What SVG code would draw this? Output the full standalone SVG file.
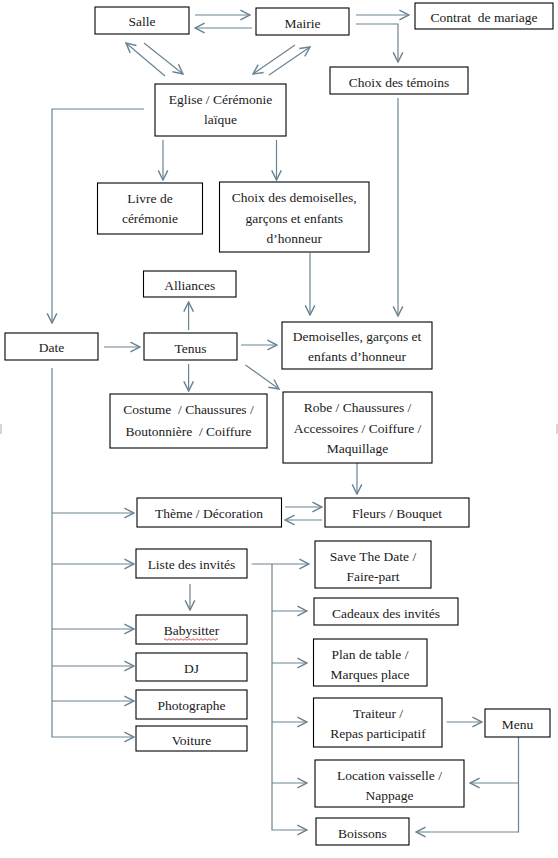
<svg xmlns="http://www.w3.org/2000/svg" width="558" height="858" viewBox="0 0 558 858">
<style>
.box{fill:#fff;stroke:#000;stroke-width:1.1}
.lbl{font-family:"Liberation Serif","Times New Roman",serif;font-size:13.5px;fill:#1a1a1a;text-anchor:middle}
.conn path{fill:none;stroke:#6a8494;stroke-width:1.2}
.conn path.a{marker-end:url(#arr)}
</style>
<defs>
<marker id="arr" markerUnits="userSpaceOnUse" markerWidth="12" markerHeight="12" viewBox="0 0 10 10" refX="9" refY="5" orient="auto">
<path d="M1,1 L9,5 L1,9" fill="none" stroke="#6a8494" stroke-width="1.2"/>
</marker>
</defs>
<rect width="558" height="858" fill="#fff"/>
<g id="edge-marks" stroke="#c8c8c8" stroke-width="1.5">
<path d="M1,424 V434"/>
<path d="M557,424 V434"/>
</g>
<g class="conn" id="connectors">
<path class="a" d="M195,15 H250"/>
<path class="a" d="M252,28 H195"/>
<path class="a" d="M356,15 H409"/>
<path class="a" d="M356,24 H398 V62"/>
<path class="a" d="M165,76 L126,43"/>
<path class="a" d="M144,43 L183,74"/>
<path class="a" d="M295,45 L253,74"/>
<path class="a" d="M269,75 L310,47"/>
<path class="a" d="M144,109 H52 V323"/>
<path class="a" d="M163,140 V180"/>
<path class="a" d="M276.5,140 V180"/>
<path class="a" d="M310,253 V315"/>
<path class="a" d="M398,98 V316"/>
<path class="a" d="M188.6,330 V302"/>
<path class="a" d="M104,347 H140"/>
<path class="a" d="M241,345 H277"/>
<path class="a" d="M188.6,364 V391"/>
<path class="a" d="M245.5,365 L279,389"/>
<path class="a" d="M357,463 V494"/>
<path class="a" d="M285,507 H322"/>
<path class="a" d="M322,520 H285"/>
<path class="a" d="M52,368 V737 H134"/>
<path class="a" d="M52,513 H134"/>
<path class="a" d="M52,564 H134"/>
<path class="a" d="M52,629 H134"/>
<path class="a" d="M52,666 H134"/>
<path class="a" d="M52,701 H134"/>
<path class="a" d="M251.6,564 H309"/>
<path class="a" d="M272,564 V830 H307"/>
<path class="a" d="M272,611 H307"/>
<path class="a" d="M272,663 H307"/>
<path class="a" d="M272,722 H307"/>
<path class="a" d="M272,783 H307"/>
<path class="a" d="M190,584 V610"/>
<path class="a" d="M446.6,722 H482"/>
<path class="a" d="M518.5,737 V832 H416"/>
<path class="a" d="M518.5,783 H470"/>
</g>
<g id="salle"><rect class="box" x="95" y="7" width="94" height="27"/><text class="lbl" x="142" y="25.5">Salle</text></g>
<g id="mairie"><rect class="box" x="256" y="8" width="93" height="27"/><text class="lbl" x="302.5" y="27.5">Mairie</text></g>
<g id="contrat"><rect class="box" x="415" y="3" width="138" height="26"/><text class="lbl" x="484" y="21.5" xml:space="preserve">Contrat  de mariage</text></g>
<g id="temoins"><rect class="box" x="330" y="67" width="138" height="27"/><text class="lbl" x="399" y="86.5">Choix des témoins</text></g>
<g id="eglise"><rect class="box" x="155" y="84" width="131" height="52"/><text class="lbl" x="220.5" y="103.5">Eglise / Cérémonie</text><text class="lbl" x="220.5" y="123.5">laïque</text></g>
<g id="livre"><rect class="box" x="97.5" y="183" width="105" height="51"/><text class="lbl" x="150" y="202.5">Livre de</text><text class="lbl" x="150" y="222.5">cérémonie</text></g>
<g id="choix-demoiselles"><rect class="box" x="219.5" y="182" width="149.5" height="70"/><text class="lbl" x="294.25" y="201.5">Choix des demoiselles,</text><text class="lbl" x="294.25" y="222.5">garçons et enfants</text><text class="lbl" x="294.25" y="242.5">d’honneur</text></g>
<g id="alliances"><rect class="box" x="143.5" y="271" width="92.5" height="26"/><text class="lbl" x="189.75" y="289.5">Alliances</text></g>
<g id="date"><rect class="box" x="5" y="333" width="93" height="27"/><text class="lbl" x="51.5" y="351.5">Date</text></g>
<g id="tenus"><rect class="box" x="144" y="333" width="93" height="27"/><text class="lbl" x="190.5" y="352.5">Tenus</text></g>
<g id="demoiselles"><rect class="box" x="282" y="322" width="150" height="47"/><text class="lbl" x="357" y="340.5">Demoiselles, garçons et</text><text class="lbl" x="357" y="360.5">enfants d’honneur</text></g>
<g id="costume"><rect class="box" x="110" y="394" width="157" height="54"/><text class="lbl" x="188.5" y="413.5" xml:space="preserve">Costume  / Chaussures /</text><text class="lbl" x="188.5" y="435.5" xml:space="preserve">Boutonnière  / Coiffure</text></g>
<g id="robe"><rect class="box" x="283" y="392" width="149" height="71"/><text class="lbl" x="357.5" y="411.5">Robe / Chaussures /</text><text class="lbl" x="357.5" y="432.5">Accessoires / Coiffure /</text><text class="lbl" x="357.5" y="452.5">Maquillage</text></g>
<g id="theme"><rect class="box" x="137" y="498" width="144.5" height="29"/><text class="lbl" x="209" y="517.5">Thème / Décoration</text></g>
<g id="fleurs"><rect class="box" x="325" y="498" width="144" height="29"/><text class="lbl" x="397" y="517.5">Fleurs / Bouquet</text></g>
<g id="liste"><rect class="box" x="136" y="549" width="111" height="29"/><text class="lbl" x="191.5" y="568.5">Liste des invités</text></g>
<g id="save"><rect class="box" x="315" y="541" width="116" height="47"/><text class="lbl" x="373" y="560.5">Save The Date /</text><text class="lbl" x="373" y="580.5">Faire-part</text></g>
<g id="cadeaux"><rect class="box" x="314" y="598" width="144" height="27"/><text class="lbl" x="386" y="617.5">Cadeaux des invités</text></g>
<g id="babysitter"><rect class="box" x="136" y="615" width="111" height="29"/><text class="lbl" x="191.5" y="634.5">Babysitter</text><path d="M164,639.5 q1,-1.5 2,0 t2,0 t2,0 t2,0 t2,0 t2,0 t2,0 t2,0 t2,0 t2,0 t2,0 t2,0 t2,0 t2,0 t2,0 t2,0 t2,0 t2,0 t2,0 t2,0 t2,0 t2,0 t2,0 t2,0 t2,0 t2,0 t2,0" fill="none" stroke="#d83030" stroke-width="0.8"/></g>
<g id="dj"><rect class="box" x="136" y="653" width="111" height="28"/><text class="lbl" x="191.5" y="672.5">DJ</text></g>
<g id="photographe"><rect class="box" x="136" y="690" width="111" height="29"/><text class="lbl" x="191.5" y="709.5">Photographe</text></g>
<g id="voiture"><rect class="box" x="136" y="726" width="111" height="25"/><text class="lbl" x="191.5" y="744.5">Voiture</text></g>
<g id="plan"><rect class="box" x="313.5" y="639" width="113.5" height="47"/><text class="lbl" x="370" y="658.5">Plan de table /</text><text class="lbl" x="370" y="678.5">Marques place</text></g>
<g id="traiteur"><rect class="box" x="313.5" y="698" width="128.5" height="49"/><text class="lbl" x="378" y="717.5">Traiteur /</text><text class="lbl" x="378" y="737.5">Repas participatif</text></g>
<g id="menu"><rect class="box" x="485" y="709" width="65" height="28"/><text class="lbl" x="517.5" y="728.5">Menu</text></g>
<g id="location"><rect class="box" x="315" y="760" width="149" height="47"/><text class="lbl" x="389.5" y="779.5">Location vaisselle /</text><text class="lbl" x="389.5" y="799.5">Nappage</text></g>
<g id="boissons"><rect class="box" x="316" y="818" width="93" height="27"/><text class="lbl" x="362.5" y="837.5">Boissons</text></g>
</svg>
